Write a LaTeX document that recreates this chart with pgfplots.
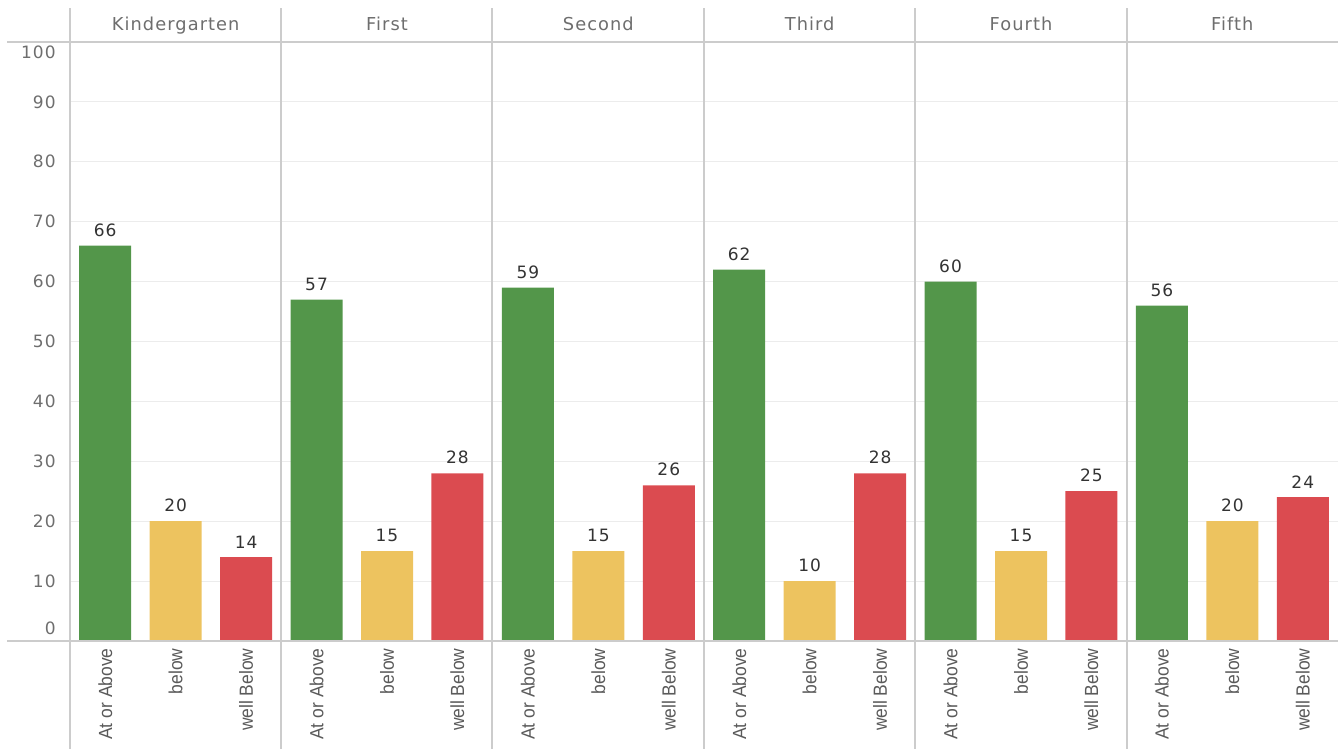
\documentclass[border=0pt]{standalone}
\usepackage{pgfplots}
\usepackage{pgfplotstable}
\pgfplotsset{compat=1.18}
\usepackage{fontspec}
\setmainfont{DejaVu Sans}
\newfontfamily\numfont[LetterSpace=6]{DejaVu Sans}
\newfontfamily\catfont[FakeStretch=0.92]{Liberation Sans}
\definecolor{cgreen}{RGB}{83,150,74}
\definecolor{cyellow}{RGB}{237,195,95}
\definecolor{cred}{RGB}{219,75,80}
\definecolor{divider}{RGB}{204,204,204}
\definecolor{gridc}{RGB}{236,236,236}
\definecolor{ticktext}{RGB}{110,110,110}
\definecolor{cattext}{RGB}{90,90,90}
\definecolor{valtext}{RGB}{51,51,51}

\pgfplotstableread{
x y
0 66
3 57
6 59
9 62
12 60
15 56
}\atabove
\pgfplotstableread{
x y
1 20
4 15
7 15
10 10
13 15
16 20
}\below
\pgfplotstableread{
x y
2 14
5 28
8 26
11 28
14 25
17 24
}\wellbelow

\begin{document}
\begin{tikzpicture}
\path[use as bounding box] (0,0) rectangle (669pt,374.5pt);
\begin{axis}[
  at={(35pt,54pt)}, anchor=south west,
  scale only axis, width=634pt, height=299.5pt,
  xmin=-0.5, xmax=17.5, ymin=0, ymax=100,
  axis line style={draw=none},
  ybar, bar width=26pt, bar shift=0pt,
  xtick={0,...,17},
  xticklabels={At or Above,below,well Below,At or Above,below,well Below,At or Above,below,well Below,At or Above,below,well Below,At or Above,below,well Below,At or Above,below,well Below},
  xticklabel style={rotate=90, anchor=east, font=\catfont\fontsize{9.5pt}{11pt}\selectfont, text=cattext, inner sep=3.5pt},
  major tick length=0pt,
  ytick={10,20,...,90},
  yticklabel style={font=\numfont\fontsize{8.5pt}{10pt}\selectfont, text=ticktext, anchor=east, inner sep=0pt, xshift=-7pt},
  /pgf/number format/assume math mode=true,
  ymajorgrids, grid style={gridc, line width=0.5pt},
  nodes near coords,
  nodes near coords style={font=\numfont\fontsize{8.5pt}{10pt}\selectfont, text=valtext, yshift=1pt},
  clip=false,
]
\addplot[fill=cgreen, draw=none, bar shift=0pt] table[x=x,y=y] {\atabove};
\addplot[fill=cyellow, draw=none, bar shift=0pt] table[x=x,y=y] {\below};
\addplot[fill=cred, draw=none, bar shift=0pt] table[x=x,y=y] {\wellbelow};
\node[anchor=east, inner sep=0pt, font=\numfont\fontsize{8.5pt}{10pt}\selectfont, text=ticktext] at (axis cs:-0.5,0) [xshift=-7pt, yshift=6.5pt] {0};
\node[anchor=east, inner sep=0pt, font=\numfont\fontsize{8.5pt}{10pt}\selectfont, text=ticktext] at (axis cs:-0.5,100) [xshift=-7pt, yshift=-5.3pt] {100};
\foreach \c/\lab in {1/Kindergarten,4/First,7/Second,10/Third,13/Fourth,16/Fifth}{
  \edef\tmp{\noexpand\node[anchor=base, inner sep=0pt, font=\noexpand\numfont\noexpand\fontsize{8.9pt}{10pt}\noexpand\selectfont, text=ticktext] at (axis cs:\c,100) [yshift=5.5pt] {\lab};}
  \tmp
}
\end{axis}
\draw[divider, line width=0.8pt] (3.5pt,54pt) -- (669pt,54pt);
\draw[divider, line width=0.8pt] (3.5pt,353.5pt) -- (669pt,353.5pt);
\foreach \x in {35,140.5,246,352,457.5,563.5}{
  \draw[divider, line width=0.8pt] (\x pt,0pt) -- (\x pt,370.5pt);
}
\end{tikzpicture}
\end{document}
